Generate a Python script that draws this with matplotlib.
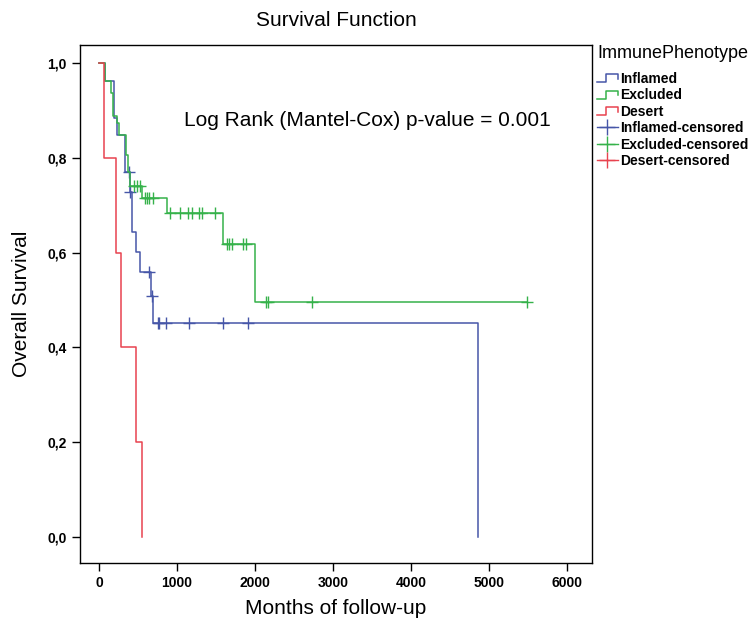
import numpy as np
import matplotlib
matplotlib.use("Agg")
import matplotlib.pyplot as plt
from matplotlib.lines import Line2D
from matplotlib.legend_handler import HandlerBase
from matplotlib.ticker import FuncFormatter

plt.rcParams['font.family'] = ['Liberation Sans', 'DejaVu Sans']

# Kaplan-Meier step values per immune phenotype (time, survival after step)
inflamed_t = [0, 75, 196, 235, 333, 392, 419, 474, 527, 660, 688, 4860]
inflamed_s = [1.0, 0.963, 0.885, 0.848, 0.771, 0.728, 0.644, 0.602, 0.560, 0.508, 0.452, 0.0]
inflamed_cens = [385, 400, 637, 675, 755, 775, 860, 1154, 1594, 1906]
inflamed_end = 4860

excluded_t = [0, 75, 150, 184, 226, 261, 346, 376, 400, 547, 876, 1594, 2000]
excluded_s = [1.0, 0.963, 0.937, 0.888, 0.873, 0.848, 0.806, 0.771, 0.741, 0.715, 0.683, 0.619, 0.496]
excluded_cens = [449, 483, 526, 590, 620, 645, 696, 910, 1038, 1145, 1188, 1286, 1324, 1487,
                 1637, 1671, 1701, 1850, 1885, 2141, 2171, 2735, 5483]
excluded_end = 5483

desert_t = [0, 60, 220, 278, 470, 555]
desert_s = [1.0, 0.8, 0.6, 0.4, 0.2, 0.0]
desert_cens = []
desert_end = 555

groups = [
    ("Inflamed", inflamed_t, inflamed_s, inflamed_cens, inflamed_end, "#4656a8"),
    ("Excluded", excluded_t, excluded_s, excluded_cens, excluded_end, "#35b24a"),
    ("Desert", desert_t, desert_s, desert_cens, desert_end, "#e8434f"),
]

p_value_text = "Log Rank (Mantel-Cox) p-value = 0.001"


class StepHandler(HandlerBase):
    # little step glyph used by SPSS for survival curves
    def create_artists(self, legend, orig_handle, xdescent, ydescent,
                       width, height, fontsize, trans):
        x0 = -xdescent
        lo = -ydescent + 0.05 * height
        hi = -ydescent + 0.85 * height
        xs = [x0, x0 + 0.45 * width, x0 + 0.45 * width, x0 + width, x0 + width]
        ys = [lo, lo, hi, hi, lo + 0.35 * height]
        line = Line2D(xs, ys, color=orig_handle.get_color(), lw=1.1)
        line.set_transform(trans)
        return [line]


fig = plt.figure(figsize=(7.55, 6.19), dpi=100)
ax = fig.add_axes([80 / 755, 1 - 563 / 619, 512 / 755, 518 / 619])

step_handles = []
cens_handles = []
for name, t, s, cens, end, color in groups:
    t = np.array(t, dtype=float)
    s = np.array(s)
    xs = np.append(t, end)
    ys = np.append(s, s[-1])
    ax.step(xs, ys, where='post', color=color, lw=1.1)
    if cens:
        c = np.array(cens, dtype=float)
        idx = np.searchsorted(t, c, side='right') - 1
        ax.plot(c, s[idx], ls='none', marker='+', ms=8, mew=1.0, color=color)
    step_handles.append(Line2D([], [], color=color, label=name))
    cens_handles.append(Line2D([], [], color=color, lw=1.0, marker='+', ms=12, mew=1.0,
                               label=name + "-censored"))

ax.set_xlim(-244, 6320)
ax.set_ylim(-0.055, 1.038)
ax.set_xticks(np.arange(0, 6001, 1000))
ax.set_yticks(np.arange(0, 1.01, 0.2))
ax.yaxis.set_major_formatter(FuncFormatter(lambda v, _: f"{v:.1f}".replace('.', ',')))
ax.tick_params(direction='out', length=6, width=1, labelsize=10, top=False, right=False)
for lab in ax.get_xticklabels() + ax.get_yticklabels():
    lab.set_fontweight('bold')
for sp in ax.spines.values():
    sp.set_linewidth(1.0)

fig.text(336 / 755, 1 - 20 / 619, "Survival Function", fontsize=15, ha='center', va='center')
ax.set_xlabel("Months of follow-up", fontsize=15, labelpad=6)
ax.set_ylabel("Overall Survival", fontsize=15, labelpad=12)
ax.text(367 / 755, 1 - 120 / 619, p_value_text, transform=fig.transFigure,
        fontsize=15, ha='center', va='center')

handles = step_handles + cens_handles
leg = fig.legend(handles=handles, labels=[h.get_label() for h in handles],
                 handler_map={h: StepHandler() for h in step_handles},
                 loc='upper left', bbox_to_anchor=(597 / 755, 1 - 45 / 619),
                 frameon=False, title="ImmunePhenotype", title_fontsize=13,
                 prop={'size': 10, 'weight': 'bold'}, alignment='left',
                 handlelength=1.5, handletextpad=0.2, labelspacing=0.18,
                 borderaxespad=0, borderpad=0)
leg._legend_box.sep = 7

fig.savefig("out.png", dpi=100)
